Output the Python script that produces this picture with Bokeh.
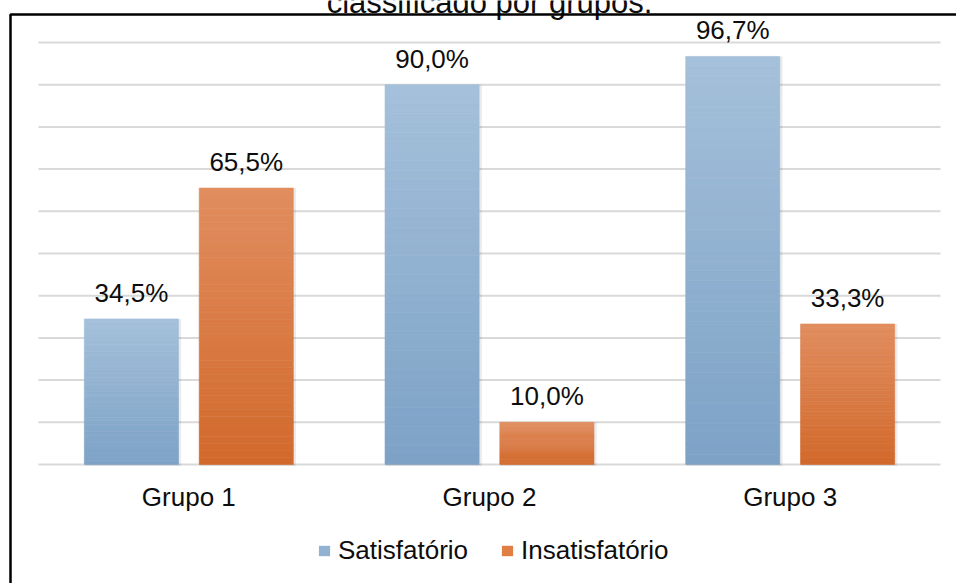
from bokeh.plotting import figure
from bokeh.models import (Range1d, Legend, LegendItem, ColumnDataSource, BoxAnnotation)
from bokeh.core.properties import value
from bokeh.embed import file_html
from bokeh.resources import INLINE

# ---- data ----
grupos = ["Grupo 1", "Grupo 2", "Grupo 3"]
satisfatorio = [34.5, 90.0, 96.7]
insatisfatorio = [65.5, 10.0, 33.3]
series_names = ["Satisfatório", "Insatisfatório"]
title_text = "classificado por grupos."
grid_ticks = [0, 10, 20, 30, 40, 50, 60, 70, 80, 90, 100]

FONT = "Liberation Sans"
TXT = "#0D0D0D"
W, H = 956, 583
# layout of the plot area in pixels
PL, PR, PT, PB = 38, 940, 42, 464          # plot area left/right, y of 100 and of 0
ncat = len(grupos)
ppx = (PR - PL) / ncat                     # pixels per category
ppy = (PB - PT) / grid_ticks[-1]           # pixels per unit
x0 = -PL / ppx
x1 = ncat + (W - PR) / ppx
y1 = PB / ppy
y0 = -(H - PB) / ppy

# gradient colours (bottom, top) and legend colour
blue_grad = ((0x7D, 0xA2, 0xC6), (0xA4, 0xC0, 0xDA))
orange_grad = ((0xD2, 0x69, 0x2B), (0xE1, 0x8D, 0x5F))
legend_colors = ["#92B2D2", "#E17E44"]

p = figure(width=W, height=H, output_backend="svg", toolbar_location=None,
           x_range=Range1d(x0, x1), y_range=Range1d(y0, y1),
           x_axis_location=None, y_axis_location=None,
           min_border=0, outline_line_color=None)
p.xgrid.visible = False
p.ygrid.visible = False
p.background_fill_color = "white"
p.border_fill_color = "white"

# horizontal gridlines over the plot area
p.segment(x0=[0] * len(grid_ticks), x1=[ncat] * len(grid_ticks),
          y0=grid_ticks, y1=grid_ticks, line_color="#D9D9D9", line_width=2)

N = 40
bar_w = 0.313
offsets = [-0.191, 0.191]
centers = [i + 0.5 for i in range(ncat)]


def hexc(c):
    return "#%02X%02X%02X" % c


for vals, grad, off in [(satisfatorio, blue_grad, offsets[0]),
                        (insatisfatorio, orange_grad, offsets[1])]:
    xc = [c + off for c in centers]
    # soft shadow
    p.vbar(x=[x + 0.006 for x in xc], top=vals, bottom=-0.35, width=bar_w + 0.006,
           fill_color="#000000", fill_alpha=0.08, line_color=None)
    xs, bots, tops, cols = [], [], [], []
    for x, v in zip(xc, vals):
        for k in range(N):
            t = (k + 0.5) / N
            c = tuple(int(round(grad[0][i] + (grad[1][i] - grad[0][i]) * t)) for i in range(3))
            xs.append(x)
            bots.append(v * k / N)
            tops.append(v * (k + 1) / N)
            cols.append(hexc(c))
    src = ColumnDataSource(dict(x=xs, bottom=bots, top=tops, color=cols))
    p.vbar(x="x", bottom="bottom", top="top", width=bar_w, source=src,
           fill_color="color", line_color="color", line_width=0.6)
    lab = ColumnDataSource(dict(x=xc, y=vals,
                                t=[("%.1f%%" % v).replace(".", ",") for v in vals]))
    p.text(x="x", y="y", text="t", source=lab,
           text_align="center", text_baseline="middle", y_offset=-26,
           text_font=value(FONT), text_font_size="26px", text_color=TXT)

# category labels
p.text(x=centers, y=[0] * ncat, text=grupos, text_align="center",
       text_baseline="middle", y_offset=32, text_font=value(FONT),
       text_font_size="26px", text_color=TXT)

# title (upper part cut off by the page edge as in the source)
p.text(x=[ncat / 2], y=[y1], text=[title_text], text_align="center",
       text_baseline="middle", y_offset=2, text_font=value(FONT),
       text_font_size="31px", text_color=TXT)

# outer chart border (left/top visible)
border = BoxAnnotation(left=x0 + 10 / ppx, right=x1 + 1, top=y1 - 14 / ppy,
                       bottom=y0 - 10, fill_alpha=0, line_color="black",
                       line_alpha=1.0, line_width=2.5)
p.add_layout(border)

# legend (swatch renderers sit far outside the visible range)
r1 = p.vbar(x=[x1 + 5], bottom=[y0 - 30], top=[y0 - 20], width=0.1,
            fill_color=legend_colors[0], line_color=None)
r2 = p.vbar(x=[x1 + 5], bottom=[y0 - 30], top=[y0 - 20], width=0.1,
            fill_color=legend_colors[1], line_color=None)
legend = Legend(items=[LegendItem(label=series_names[0], renderers=[r1]),
                       LegendItem(label=series_names[1], renderers=[r2])],
                orientation="horizontal", location=(317, 17),
                label_text_font=FONT, label_text_font_size="26px",
                label_text_color=TXT, glyph_width=14, glyph_height=13,
                label_standoff=7, spacing=32, padding=0, margin=0,
                border_line_color=None, background_fill_alpha=0)
p.add_layout(legend, "center")

open("out.html", "w").write(file_html(p, INLINE))
